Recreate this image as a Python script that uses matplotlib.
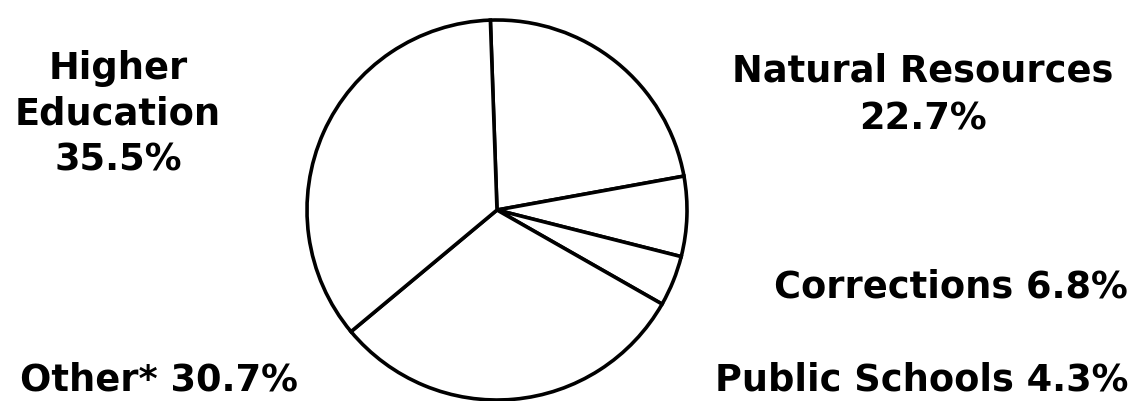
import matplotlib
matplotlib.use("Agg")
import matplotlib.pyplot as plt

categories = ["Natural Resources", "Corrections", "Public Schools", "Other*", "Higher Education"]
shares = [22.7, 6.8, 4.3, 30.7, 35.5]

fig = plt.figure(figsize=(11.4, 4.01), dpi=100)
ax = fig.add_axes([0, 0, 1, 1])

ax.pie(shares, startangle=92, counterclock=False, center=(497, 191), radius=190,
       colors=["white"] * len(shares),
       wedgeprops=dict(edgecolor="black", linewidth=2.6), frame=True)
ax.set_xlim(0, 1140)
ax.set_ylim(0, 401)
ax.set_aspect("equal")
ax.axis("off")

font = dict(fontsize=26.5, fontweight="bold", family="DejaVu Sans", color="black")
ax.text(118, 401 - 114, f"Higher\nEducation\n{shares[4]}%", ha="center", va="center",
        linespacing=1.3, **font)
ax.text(923, 401 - 95, f"{categories[0]}\n{shares[0]}%", ha="center", va="center",
        linespacing=1.35, **font)
ax.text(1128, 401 - 287, f"{categories[1]} {shares[1]}%", ha="right", va="center", **font)
ax.text(1128, 401 - 380, f"{categories[2]} {shares[2]}%", ha="right", va="center", **font)
ax.text(20, 401 - 380, f"{categories[3]} {shares[3]}%", ha="left", va="center", **font)

fig.savefig("out.png", dpi=100)
